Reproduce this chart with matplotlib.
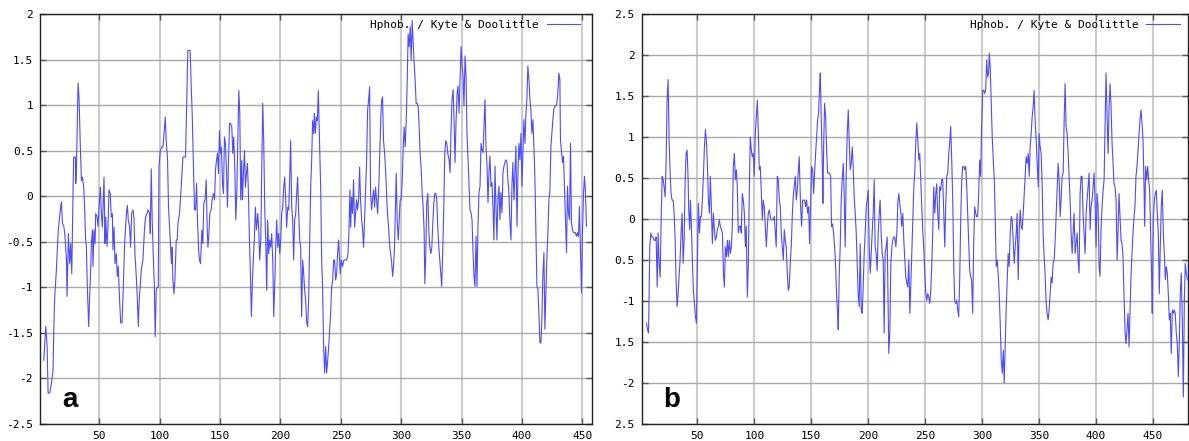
import matplotlib
matplotlib.use('Agg')
import matplotlib.pyplot as plt

plt.rcParams['axes.unicode_minus'] = False

# ---------------- data: panel a (residue position, hydrophobicity) ----------------
res_a = [
    4.1, 5.8, 6.9, 7.7, 9.1, 10.5, 11.8, 12.4, 13.2, 14.6,
    16.0, 17.4, 18.7, 19.6, 20.7, 21.5, 22.9, 23.4, 24.5, 25.6,
    26.4, 27.3, 28.4, 28.9, 30.3, 30.6, 31.1, 31.7, 32.5, 33.3,
    34.4, 35.3, 36.1, 37.2, 38.0, 38.8, 39.4, 40.2, 41.3, 42.1,
    43.0, 43.5, 44.4, 44.9, 45.7, 46.6, 47.1, 48.2, 49.0, 49.9,
    51.0, 51.8, 52.6, 53.2, 54.0, 54.8, 55.4, 56.5, 57.3, 58.1,
    59.2, 60.0, 60.9, 61.4, 62.3, 63.1, 64.2, 65.0, 65.8, 66.9,
    67.8, 68.9, 69.7, 71.1, 72.5, 73.3, 74.1, 75.2, 76.0, 76.9,
    78.0, 78.8, 79.6, 80.7, 81.5, 82.4, 82.9, 83.5, 84.9, 86.2,
    87.6, 88.4, 89.5, 90.6, 91.7, 92.3, 93.1, 93.9, 94.8, 95.6,
    96.4, 97.2, 98.1, 98.9, 99.5, 100.6, 101.7, 102.8, 103.9, 104.7,
    105.5, 106.6, 107.4, 108.3, 109.1, 109.9, 110.5, 111.0, 111.9, 112.7,
    113.8, 114.6, 115.2, 116.5, 117.9, 119.3, 121.5, 122.6, 123.4, 125.3,
    126.2, 127.0, 128.1, 128.9, 129.8, 130.6, 131.4, 132.2, 133.0, 133.9,
    135.0, 135.8, 136.6, 137.7, 138.6, 139.4, 140.0, 140.8, 141.6, 142.7,
    143.5, 144.6, 145.5, 146.3, 147.1, 147.9, 148.8, 149.6, 150.4, 151.2,
    152.1, 152.9, 153.7, 154.5, 155.4, 156.2, 157.0, 157.9, 158.7, 159.8,
    160.6, 161.4, 162.3, 163.1, 163.9, 164.7, 165.6, 166.4, 167.2, 168.0,
    168.6, 169.4, 170.3, 171.1, 171.9, 172.7, 173.5, 174.4, 175.2, 176.0,
    176.9, 177.7, 178.5, 179.3, 180.2, 181.3, 182.1, 182.9, 183.8, 184.6,
    185.4, 186.2, 187.1, 187.9, 188.7, 189.5, 190.4, 191.2, 192.0, 192.8,
    193.7, 194.5, 195.3, 196.1, 197.0, 197.8, 198.6, 199.5, 200.3, 201.1,
    201.9, 202.8, 203.6, 204.4, 205.2, 206.1, 206.9, 207.7, 208.5, 209.4,
    210.2, 211.0, 211.8, 212.7, 213.5, 214.3, 215.2, 216.0, 216.8, 217.6,
    218.5, 219.3, 220.1, 220.9, 221.8, 222.6, 223.4, 224.2, 225.1, 225.9,
    226.7, 227.6, 228.1, 229.0, 229.8, 230.6, 231.4, 232.3, 233.4, 234.2,
    235.0, 235.8, 236.7, 237.5, 238.3, 239.2, 240.0, 240.8, 241.6, 242.5,
    243.3, 244.1, 244.9, 245.8, 246.6, 247.4, 248.2, 248.8, 249.6, 250.4,
    251.5, 252.6, 253.8, 254.9, 256.0, 256.8, 257.6, 258.2, 259.0, 259.8,
    260.6, 261.5, 262.3, 263.1, 263.9, 264.8, 265.6, 266.4, 267.3, 268.1,
    268.9, 269.7, 270.6, 271.4, 272.2, 273.0, 273.9, 274.7, 275.5, 276.3,
    277.2, 278.0, 278.8, 279.6, 280.5, 281.3, 282.1, 283.0, 283.8, 284.6,
    285.4, 286.3, 287.1, 287.9, 288.7, 289.6, 290.4, 291.2, 292.0, 292.9,
    293.7, 294.5, 295.4, 295.9, 296.7, 297.6, 298.4, 299.2, 300.0, 300.9,
    301.7, 302.5, 303.3, 304.2, 305.0, 305.8, 306.6, 307.5, 308.3, 309.1,
    309.9, 310.8, 311.6, 312.4, 313.3, 314.1, 314.9, 315.7, 316.6, 317.4,
    318.2, 319.0, 319.6, 320.4, 321.2, 322.1, 322.9, 323.7, 324.6, 325.4,
    326.2, 327.0, 327.9, 328.7, 329.5, 330.3, 331.2, 332.0, 332.8, 333.6,
    334.5, 335.3, 336.1, 336.9, 337.8, 338.6, 339.7, 340.5, 341.3, 342.1,
    343.0, 343.8, 344.6, 345.4, 346.3, 347.1, 347.9, 348.7, 349.6, 350.4,
    351.2, 352.0, 352.9, 353.7, 354.5, 355.4, 356.2, 357.0, 357.8, 358.7,
    359.5, 360.3, 361.1, 362.0, 362.8, 363.6, 364.4, 365.3, 366.1, 366.9,
    367.8, 368.6, 369.4, 370.2, 371.1, 371.9, 372.7, 373.5, 374.4, 375.2,
    376.0, 376.8, 377.7, 378.5, 379.3, 380.1, 381.0, 381.8, 382.6, 383.5,
    384.3, 385.1, 385.9, 386.8, 387.6, 388.4, 389.2, 390.1, 390.9, 391.7,
    392.5, 393.4, 394.2, 395.0, 395.9, 396.7, 397.5, 398.3, 399.2, 400.0,
    400.8, 401.6, 402.5, 403.3, 404.1, 404.9, 405.8, 406.6, 407.4, 408.2,
    409.1, 409.9, 410.7, 411.6, 412.4, 413.2, 414.0, 414.9, 415.7, 416.5,
    417.3, 418.2, 419.0, 419.8, 420.6, 421.5, 422.3, 423.1, 424.0, 424.8,
    425.6, 426.4, 427.3, 428.1, 428.9, 429.7, 430.6, 431.4, 431.9, 432.8,
    433.6, 434.4, 435.2, 436.1, 436.9, 437.7, 438.5, 439.4, 440.2, 441.0,
    441.8, 442.7, 443.5, 444.3, 445.1, 446.0, 446.8, 447.6, 448.5, 449.3,
    450.1, 451.0, 451.8, 452.6, 453.4,
]
hyd_a = [
    -1.80, -1.43, -1.65, -2.16, -2.16, -2.05, -1.91, -1.47, -1.10, -0.80,
    -0.40, -0.20, -0.06, -0.30, -0.33, -0.41, -0.70, -1.10, -0.41, -0.74,
    -0.52, -0.85, 0.10, 0.43, 0.43, 0.14, 0.25, 0.69, 1.24, 1.09,
    0.54, 0.17, 0.21, 0.10, -0.15, -0.48, -0.55, -1.00, -1.43, -1.10,
    -0.80, -0.52, -0.37, -0.77, -0.37, -0.52, -0.19, -0.22, -0.33, -0.12,
    0.10, -0.19, -0.34, -0.12, 0.21, -0.52, -0.23, -0.55, -0.34, 0.07,
    0.03, -0.23, -0.19, -0.59, -0.34, -0.74, -0.63, -0.88, -0.77, -1.14,
    -1.39, -1.39, -1.10, -0.52, -0.19, -0.10, -0.26, -0.34, -0.56, -0.19,
    -0.15, -0.23, -0.63, -0.88, -1.10, -1.43, -1.21, -1.07, -0.80, -0.70,
    -0.34, -0.23, -0.19, -0.15, -0.19, -0.41, 0.30, -0.26, -0.66, -0.96,
    -1.54, -1.03, -1.00, -1.00, 0.32, 0.50, 0.54, 0.54, 0.72, 0.87,
    0.61, 0.40, -0.12, -0.34, -0.56, -0.74, -0.56, -0.92, -1.07, -0.92,
    -0.48, -0.48, -0.30, -0.19, 0.10, 0.43, 0.43, 1.13, 1.60, 1.60,
    1.20, 0.91, 0.29, -0.15, -0.15, 0.14, -0.26, -0.56, -0.70, -0.74,
    -0.37, -0.52, -0.08, -0.04, 0.18, -0.34, -0.56, -0.41, -0.19, -0.15,
    -0.04, 0.03, -0.04, 0.29, 0.39, 0.47, 0.25, 0.72, 0.47, 0.54,
    0.14, 0.03, 0.65, 0.58, 0.29, -0.12, 0.36, 0.80, 0.80, 0.76,
    0.47, 0.65, 0.29, -0.26, 0.03, 0.54, 1.16, 0.91, -0.04, 0.39,
    -0.04, 0.25, 0.50, 0.10, 0.25, 0.36, 0.07, -0.48, -0.85, -1.32,
    -0.92, -0.67, -0.45, -0.12, -0.37, -0.19, -0.37, -0.70, -0.48, 0.32,
    1.02, 0.61, -0.15, -0.48, -1.03, -0.26, -0.63, -0.48, -0.56, -0.41,
    -0.70, -1.32, -0.99, -0.56, -0.26, -0.56, -0.41, -0.63, -0.48, -0.19,
    -0.12, 0.10, 0.21, -0.04, -0.34, -0.12, -0.15, 0.18, 0.61, -0.12,
    -0.26, -0.70, -0.26, -0.19, 0.03, 0.21, -0.19, -0.48, -0.56, -1.32,
    -0.70, -0.85, -1.03, -1.14, -1.39, -1.43, -1.14, -0.56, 0.10, 0.39,
    0.83, 0.69, 0.91, 0.69, 0.87, 0.83, 1.16, 0.65, 0.07, -0.70,
    -1.03, -1.65, -1.94, -1.65, -1.94, -1.80, -1.65, -1.47, -1.29, -0.99,
    -0.92, -0.70, -0.70, -0.92, -0.85, -0.63, -0.48, -0.63, -0.85, -0.70,
    -0.77, -0.70, -0.70, -0.70, -0.63, -0.37, 0.07, -0.34, -0.01, -0.19,
    0.18, -0.34, -0.19, -0.04, -0.15, -0.04, 0.32, -0.04, -0.26, -0.37,
    -0.56, -0.26, 0.10, 0.39, 0.94, 1.05, 1.20, 0.03, -0.15, -0.04,
    0.07, -0.12, 0.10, -0.04, -0.19, 0.03, 0.39, 0.80, 1.05, 1.09,
    0.61, 0.47, 0.29, 0.03, -0.19, -0.34, -0.52, -0.63, -0.70, -0.88,
    -0.77, -0.56, -0.04, 0.25, -0.26, -0.48, -0.26, -0.04, -0.04, 0.18,
    0.54, 0.76, 0.54, 0.83, 1.27, 1.78, 1.64, 1.86, 1.49, 1.93,
    1.71, 1.45, 1.27, 1.02, 1.02, 0.98, 0.76, 0.47, 0.29, 0.03,
    -0.12, -0.37, -0.96, -0.63, -0.08, 0.03, -0.37, -0.56, -0.63, -0.56,
    -0.30, -0.08, 0.03, 0.03, -0.04, -0.34, -0.56, -0.70, -0.85, -0.99,
    -0.56, -0.12, 0.47, 0.61, 0.58, 0.47, 0.40, 0.26, 0.73, 1.06,
    1.17, 0.84, 0.37, 0.80, 1.13, 1.21, 0.91, 1.24, 1.64, 1.46,
    1.32, 0.99, 1.54, 1.32, 0.69, 0.40, 0.11, -0.15, -0.18, -0.26,
    -0.62, -0.88, -0.99, -0.44, -0.99, -0.33, 0.04, 0.11, 0.58, 0.51,
    0.48, 0.77, 1.06, 0.55, 0.33, -0.07, 0.26, 0.44, 0.11, 0.15,
    -0.11, -0.48, 0.33, -0.11, -0.48, -0.04, 0.11, -0.26, 0.04, -0.18,
    0.26, 0.33, 0.37, 0.40, 0.37, 0.18, 0.04, -0.29, -0.48, 0.11,
    0.37, -0.04, 0.26, 0.55, -0.33, 0.26, 0.58, 0.40, 0.69, 0.11,
    0.48, 0.84, 0.58, 0.91, 1.06, 1.43, 1.28, 1.06, 0.95, 0.69,
    0.84, 0.55, 0.22, -0.40, -0.99, -1.02, -1.28, -1.61, -1.61, -1.35,
    -0.88, -0.62, -1.46, -1.06, -0.69, -0.40, -0.04, 0.04, 0.55, 0.69,
    0.84, 0.95, 0.99, 0.99, 1.02, 1.13, 1.35, 1.28, 0.62, 0.48,
    0.37, 0.44, 0.11, -0.26, -0.62, 0.11, -0.18, -0.26, 0.58, -0.29,
    -0.37, -0.40, -0.40, -0.40, -0.44, -0.40, -0.44, -0.11, -0.62, -1.06,
    -0.40, 0.04, 0.22, 0.04, -0.33,
]

# ---------------- data: panel b ----------------
res_b = [
    5.2, 6.1, 7.0, 7.5, 8.1, 9.0, 9.9, 11.0, 11.9, 12.8,
    13.7, 14.6, 15.4, 16.3, 17.2, 18.1, 19.0, 19.8, 20.7, 21.6,
    22.5, 23.3, 24.2, 25.1, 26.0, 26.8, 27.7, 28.6, 29.5, 30.4,
    31.2, 32.1, 33.0, 33.9, 34.7, 35.6, 36.5, 37.4, 38.3, 39.1,
    40.0, 40.9, 41.8, 42.3, 43.2, 43.8, 44.7, 45.6, 46.4, 47.3,
    48.2, 49.1, 49.9, 50.8, 51.7, 52.6, 53.5, 54.3, 55.2, 56.1,
    57.0, 57.8, 58.7, 59.6, 60.5, 61.3, 62.2, 63.1, 64.0, 64.9,
    65.7, 66.6, 67.5, 68.4, 69.2, 70.1, 71.0, 71.9, 72.8, 73.6,
    74.5, 75.4, 76.3, 77.1, 78.0, 78.9, 79.8, 80.6, 81.5, 82.4,
    83.3, 84.2, 85.0, 85.9, 86.8, 87.7, 88.5, 89.4, 90.3, 91.2,
    92.1, 92.9, 93.8, 94.7, 95.6, 96.4, 97.3, 98.2, 99.1, 99.9,
    100.8, 101.7, 102.6, 103.5, 104.3, 105.2, 106.1, 107.0, 107.8, 108.7,
    109.6, 110.5, 111.4, 112.2, 113.1, 114.0, 114.9, 115.7, 116.6, 117.5,
    118.4, 119.2, 120.1, 121.0, 121.9, 122.8, 123.6, 124.5, 125.4, 126.3,
    127.1, 128.0, 128.9, 129.8, 130.6, 131.5, 132.4, 133.3, 134.1, 135.0,
    135.9, 136.8, 137.7, 138.5, 139.4, 140.6, 141.5, 142.4, 143.3, 144.2,
    145.0, 145.9, 146.8, 147.7, 148.5, 149.4, 150.3, 151.2, 152.1, 152.9,
    153.8, 154.7, 155.6, 156.4, 157.3, 157.9, 158.8, 159.7, 160.2, 160.8,
    161.7, 162.6, 163.5, 164.3, 165.2, 166.1, 167.0, 167.8, 168.7, 169.6,
    170.5, 171.4, 172.2, 173.1, 173.7, 174.6, 175.4, 176.3, 177.2, 178.1,
    178.9, 179.8, 180.7, 181.6, 182.5, 183.3, 184.2, 185.1, 186.0, 186.8,
    187.7, 188.6, 189.5, 190.4, 191.2, 192.1, 193.0, 193.9, 194.7, 195.6,
    196.5, 197.4, 198.3, 199.1, 200.0, 200.9, 201.8, 202.6, 203.5, 204.4,
    205.3, 206.1, 207.0, 207.9, 208.8, 209.7, 210.5, 211.4, 212.3, 213.2,
    214.0, 214.9, 215.8, 216.7, 217.5, 218.1, 219.0, 219.9, 220.8, 221.6,
    222.5, 223.4, 224.3, 225.2, 226.0, 226.9, 227.8, 228.7, 229.5, 230.4,
    231.3, 232.2, 233.0, 233.9, 234.8, 235.7, 236.6, 237.4, 238.3, 239.2,
    240.1, 240.9, 241.8, 242.7, 243.6, 244.5, 245.3, 246.2, 247.1, 248.0,
    248.8, 249.7, 250.6, 251.5, 252.3, 253.2, 254.1, 255.0, 255.9, 256.7,
    257.6, 258.5, 259.4, 260.2, 261.1, 262.0, 262.9, 263.7, 264.6, 265.5,
    266.4, 267.3, 268.1, 269.0, 269.9, 270.8, 271.6, 272.5, 273.4, 274.3,
    275.2, 276.0, 276.9, 277.8, 278.7, 279.5, 280.4, 281.3, 282.2, 283.0,
    283.9, 284.8, 285.7, 286.6, 287.4, 288.3, 289.2, 290.1, 290.9, 291.8,
    292.7, 293.6, 294.5, 295.3, 296.2, 297.1, 298.0, 298.8, 299.7, 300.6,
    301.5, 302.3, 303.2, 304.1, 305.0, 305.8, 306.4, 307.2, 308.1, 309.0,
    309.9, 310.8, 311.6, 312.5, 313.4, 314.3, 315.1, 316.0, 316.9, 317.8,
    318.7, 319.5, 320.4, 321.3, 322.2, 323.0, 323.9, 324.8, 325.7, 326.5,
    327.4, 328.3, 329.2, 330.1, 330.9, 331.8, 332.7, 333.6, 334.4, 335.3,
    336.2, 337.1, 338.0, 338.8, 339.7, 340.6, 341.5, 342.3, 343.2, 344.1,
    345.0, 345.8, 346.7, 347.6, 348.5, 349.4, 350.2, 351.1, 352.0, 352.9,
    353.7, 354.6, 355.5, 356.4, 357.2, 358.1, 359.0, 359.9, 360.8, 361.6,
    362.5, 363.4, 364.3, 365.1, 366.0, 366.9, 367.8, 368.7, 369.5, 370.4,
    371.3, 372.2, 373.0, 373.9, 374.8, 375.7, 376.5, 377.4, 378.3, 379.2,
    380.1, 380.9, 381.8, 382.7, 383.6, 384.4, 385.3, 386.2, 387.1, 387.9,
    388.8, 389.7, 390.6, 391.5, 392.3, 393.2, 394.1, 395.0, 395.8, 396.7,
    397.6, 398.5, 399.4, 400.2, 401.1, 402.0, 402.9, 403.7, 404.6, 405.5,
    406.4, 407.3, 408.1, 409.0, 409.9, 410.8, 411.6, 412.5, 413.4, 414.3,
    415.1, 416.0, 416.9, 417.8, 418.7, 419.5, 420.4, 421.3, 422.2, 423.0,
    423.9, 424.8, 425.7, 426.5, 427.4, 428.3, 429.2, 430.1, 430.9, 431.8,
    432.7, 433.6, 434.4, 435.3, 436.2, 437.1, 438.0, 438.8, 439.7, 440.6,
    441.5, 442.4, 442.9, 443.8, 444.7, 445.6, 446.4, 447.3, 448.2, 449.1,
    449.6, 450.5, 451.4, 452.3, 453.2, 454.0, 454.9, 455.8, 456.7, 457.5,
    458.4, 459.3, 460.2, 461.1, 461.9, 462.8, 463.7, 464.6, 465.4, 466.3,
    467.2, 468.1, 469.0, 469.8, 470.7, 471.6, 472.5, 473.4, 474.2, 475.1,
    476.0, 476.9, 477.8, 478.6, 479.5, 480.4,
]
hyd_b = [
    -1.27, -1.35, -1.39, -0.95, -0.34, -0.17, -0.22, -0.22, -0.26, -0.26,
    -0.22, -0.83, -0.17, -0.54, -0.71, -0.01, 0.52, 0.48, 0.39, 0.27,
    0.72, 1.45, 1.70, 0.96, 0.56, 0.31, 0.23, 0.23, 0.07, -0.26,
    -0.74, -1.07, -0.91, -0.70, -0.50, -0.17, 0.07, -0.54, -0.26, 0.43,
    0.80, 0.84, 0.48, 0.11, -0.13, 0.23, -0.09, -0.54, -0.87, -1.03,
    -1.19, -1.27, -0.58, 0.19, -0.17, 0.03, 0.03, 0.23, 0.52, 0.88,
    1.09, 0.96, 0.68, 0.23, 0.07, 0.52, 0.15, -0.30, 0.07, -0.13,
    -0.26, -0.22, -0.13, -0.09, -0.01, -0.09, -0.13, -0.17, -0.66, -0.83,
    -0.34, -0.46, -0.26, -0.46, -0.26, -0.42, -0.34, -0.09, 0.64, 0.80,
    0.48, 0.60, 0.39, -0.17, -0.09, -0.09, -0.17, 0.31, 0.23, 0.07,
    -0.34, -0.09, -0.95, -0.54, 0.39, 1.00, 0.84, 0.76, 0.80, 0.52,
    1.04, 1.25, 1.45, 1.04, 0.60, 0.64, 0.31, -0.01, 0.23, 0.15,
    -0.09, -0.34, -0.09, 0.07, 0.11, 0.03, -0.01, -0.01, -0.01, 0.03,
    -0.17, -0.34, 0.52, 0.48, 0.23, 0.15, -0.17, -0.34, -0.50, -0.13,
    -0.26, -0.34, -0.66, -0.87, -0.83, -0.54, -0.34, 0.03, 0.27, 0.39,
    0.52, 0.23, 0.35, 0.56, 0.76, 0.15, -0.09, 0.23, 0.23, 0.23,
    0.15, 0.23, 0.07, 0.15, -0.30, 0.15, 0.64, 0.60, 0.31, 0.56,
    0.80, 1.00, 1.21, 1.29, 1.61, 1.78, 1.21, 0.64, 0.19, 0.84,
    1.41, 1.25, 0.84, 0.56, 0.56, 0.56, 0.52, -0.09, -0.06, -0.17,
    -0.34, -0.58, -0.91, -1.15, -1.35, -0.66, -0.34, 0.23, 0.48, 0.68,
    0.31, -0.34, 0.56, 1.04, 1.33, 0.96, 0.60, 0.68, 0.88, 0.64,
    0.27, 0.07, -0.17, -0.58, -0.91, -1.07, -0.30, -1.11, -1.15, -0.83,
    -0.42, -0.17, 0.15, 0.23, 0.35, -0.34, -0.66, -0.42, -0.17, 0.07,
    0.48, -0.34, -0.42, -0.63, -0.17, 0.07, 0.23, -0.17, -0.42, -0.50,
    -1.39, -0.42, -0.34, -0.22, -1.07, -1.64, -1.39, -0.54, -0.34, -0.26,
    -0.22, -0.22, -0.34, -0.17, 0.19, 0.31, 0.19, 0.07, -0.09, 0.07,
    -0.26, -0.50, -0.71, -0.78, -0.83, -0.50, -1.15, -0.83, -0.42, 0.03,
    0.39, 0.56, 0.92, 1.17, 0.96, 0.72, 0.80, 0.48, 0.15, -0.17,
    -0.34, -0.66, -0.91, -0.99, -0.91, -0.95, -1.03, -0.87, -0.54, -0.17,
    0.39, 0.07, 0.31, 0.43, 0.07, -0.13, 0.39, 0.35, 0.48, 0.48,
    0.07, -0.34, 0.15, 0.52, 0.56, 0.80, 0.92, 1.13, 0.72, 0.23,
    -0.58, -0.99, -1.03, -0.99, -1.11, -1.19, -0.74, -0.01, 0.48, 0.64,
    0.64, 0.60, 0.64, 0.39, 0.07, -0.26, -0.63, -0.71, -0.74, -1.15,
    -0.30, 0.15, 0.07, 0.03, 0.03, 0.31, 0.72, 0.52, 1.13, 1.57,
    1.57, 1.53, 1.57, 1.94, 1.73, 1.78, 2.02, 1.86, 1.45, 1.00,
    0.72, 0.48, 0.03, -0.58, -0.50, -0.70, -0.91, -1.27, -1.72, -1.88,
    -1.60, -2.00, -1.52, -1.07, -0.74, -0.42, -0.58, -0.17, 0.03, -0.01,
    -0.26, -0.54, -0.34, -0.17, 0.07, -0.74, -0.13, 0.11, -0.09, -0.13,
    0.07, 0.31, 0.56, 0.76, 0.68, 0.80, 0.52, 0.88, 1.04, 1.25,
    1.37, 1.57, 1.21, 0.96, 0.68, 0.39, 1.04, 0.88, 0.80, 0.39,
    -0.17, -0.46, -0.70, -1.03, -1.15, -1.23, -1.11, -0.91, -0.71, -0.78,
    -0.54, -0.50, -0.26, 0.03, 0.35, 0.68, 0.48, 0.03, 0.23, 0.52,
    0.56, 1.21, 1.65, 1.13, 1.04, 0.80, 0.52, 0.23, -0.17, -0.42,
    -0.17, 0.07, -0.42, -0.30, -0.17, -0.50, -0.66, 0.31, 0.52, 0.52,
    0.07, -0.17, -0.42, 0.07, 0.23, 0.39, 0.56, -0.13, 0.15, 0.23,
    0.39, 0.56, 0.19, -0.34, 0.31, 0.15, -0.58, -0.70, -0.13, 0.15,
    0.35, 0.48, 1.13, 1.78, 1.25, 0.80, 1.33, 1.65, 1.37, 0.92,
    0.68, 0.43, 0.39, 0.23, -0.50, -0.17, 0.31, 0.03, -0.26, -0.30,
    -0.46, -0.91, -1.39, -1.52, -1.35, -1.15, -1.56, -1.11, -0.71, -0.42,
    -0.17, 0.03, 0.15, 0.52, 0.64, 0.84, 1.04, 1.21, 1.33, 1.17,
    0.96, 0.39, -0.09, 0.64, 0.48, 0.64, 0.48, 0.35, -0.17, -0.74,
    -1.15, -0.01, 0.23, 0.31, 0.35, 0.07, -0.17, -0.91, -0.30, 0.15,
    0.35, -0.17, -0.42, -0.74, -0.58, -0.66, -0.91, -1.23, -1.15, -1.64,
    -1.11, -1.15, -1.11, -1.15, -1.39, -1.52, -1.92, -1.48, -0.91, -0.66,
    -1.23, -2.17, -0.99, -0.54, -0.66, -0.74,
]

# ---------------- ticks / labels ----------------
x_ticks = [50, 100, 150, 200, 250, 300, 350, 400, 450]
y_ticks_a = [2, 1.5, 1, 0.5, 0, -0.5, -1, -1.5, -2, -2.5]
y_labels_a = ['2', '1.5', '1', '0.5', '0', '-0.5', '-1', '-1.5', '-2', '-2.5']
y_ticks_b = [2.5, 2, 1.5, 1, 0.5, 0, -0.5, -1, -1.5, -2, -2.5]
y_labels_b = ['2.5', '2', '1.5', '1', '0.5', '0', '0.5', '-1', '1.5', '-2', '2.5']
legend_label = 'Hphob. / Kyte & Doolittle'
panel_tags = ['a', 'b']

W, H = 1189, 441
fig = plt.figure(figsize=(W / 100, H / 100), dpi=100)
ax_a = fig.add_axes([40 / W, 17 / H, 552 / W, 410 / H])
ax_b = fig.add_axes([641.7 / W, 17 / H, 546.3 / W, 410 / H])

MONO = 'DejaVu Sans Mono'
LINE_COLOR = '#4d4dff'


def style_panel(ax, res, hyd, xlim, ylim, yticks, ylabels, tag, leg_x):
    ax.plot(res, hyd, color=LINE_COLOR, lw=0.8, label=legend_label, zorder=3)
    ax.set_xlim(*xlim)
    ax.set_ylim(*ylim)
    ax.set_xticks(x_ticks)
    ax.set_xticklabels([str(t) for t in x_ticks])
    ax.set_yticks(yticks)
    ax.set_yticklabels(ylabels)
    ax.xaxis.grid(True, color='#cccccc', lw=1.5, zorder=0)
    ax.yaxis.grid(True, color='#a9a9a9', lw=1.0, zorder=0)
    ax.set_axisbelow(True)
    ax.tick_params(direction='in', length=4, width=1, color='#555555',
                   top=True, right=True, labelsize=8, pad=5)
    for lab in ax.get_xticklabels() + ax.get_yticklabels():
        lab.set_family(MONO)
    for sp in ax.spines.values():
        sp.set_color('#222222')
        sp.set_linewidth(1.0)
    ax.legend(loc='center right', bbox_to_anchor=(leg_x, 0.973),
              frameon=False, markerfirst=False,
              prop={'family': MONO, 'size': 8},
              handlelength=3.0, handletextpad=0.7,
              borderpad=0, borderaxespad=0)
    ax.text(0.04, 0.041, tag, transform=ax.transAxes, fontsize=20,
            fontweight='bold', family='Liberation Sans',
            ha='left', va='baseline', zorder=5)


style_panel(ax_a, res_a, hyd_a, (1, 458), (-2.5, 2), y_ticks_a, y_labels_a,
            panel_tags[0], 0.978)
style_panel(ax_b, res_b, hyd_b, (1, 481), (-2.5, 2.5), y_ticks_b, y_labels_b,
            panel_tags[1], 0.985)

fig.savefig('out.png', dpi=100)
